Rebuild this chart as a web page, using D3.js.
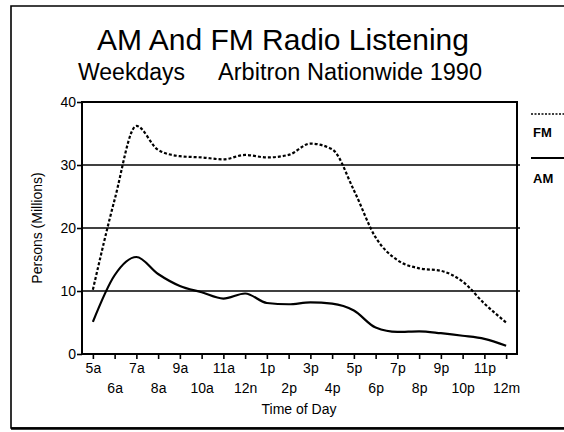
<!DOCTYPE html>
<html>
<head>
<meta charset="utf-8">
<script src="https://cdn.jsdelivr.net/npm/d3@7"></script>
<style>
  body { margin: 0; background: #fff; }
  svg { display: block; font-family: "Liberation Sans", Arial, sans-serif; }
</style>
</head>
<body>
<div id="canvas"></div>
<script>
// data
const times = ["5a", "6a", "7a", "8a", "9a", "10a", "11a", "12n", "1p", "2p",
  "3p", "4p", "5p", "6p", "7p", "8p", "9p", "10p", "11p", "12m"];
const fmValues = [10.2, 24.5, 36.2, 32.4, 31.4, 31.2, 30.9, 31.6, 31.2, 31.6,
  33.4, 32.5, 26, 18.5, 14.9, 13.6, 13.2, 11.5, 8.0, 5.0];
const amValues = [5.1, 12.5, 15.4, 12.7, 10.8, 9.8, 8.8, 9.6, 8.1, 7.9,
  8.2, 8.0, 6.9, 4.2, 3.5, 3.6, 3.3, 2.9, 2.4, 1.3];
const yTicks = [0, 10, 20, 30, 40];
const gridValues = [10, 20, 30];

const width = 564, height = 432;
const plot = { left: 82, right: 517, top: 102, bottom: 354 };

const svg = d3.select("#canvas")
  .append("svg")
  .attr("width", width)
  .attr("height", height);

// outer frame, runs off the right edge
svg.append("path")
  .attr("d", "M566,6 H11 V428 H566")
  .attr("fill", "none")
  .attr("stroke", "#000")
  .attr("stroke-width", 1.6);
svg.append("line")
  .attr("x1", 11).attr("x2", 566)
  .attr("y1", 428.5).attr("y2", 428.5)
  .attr("stroke", "#000")
  .attr("stroke-width", 2.5);

// titles
svg.append("text")
  .attr("x", 283)
  .attr("y", 50)
  .attr("text-anchor", "middle")
  .style("font-size", "30px")
  .text("AM And FM Radio Listening");

svg.append("text")
  .attr("x", 78)
  .attr("y", 80)
  .style("font-size", "23px")
  .text("Weekdays");

svg.append("text")
  .attr("x", 482)
  .attr("y", 80)
  .attr("text-anchor", "end")
  .style("font-size", "23.5px")
  .text("Arbitron Nationwide 1990");

const x = d3.scalePoint()
  .domain(times)
  .range([plot.left, plot.right])
  .padding(0.5);

const y = d3.scaleLinear()
  .domain([0, 40])
  .range([plot.bottom, plot.top]);

// gridlines
svg.append("g")
  .selectAll("line")
  .data(gridValues)
  .enter().append("line")
  .attr("x1", plot.left)
  .attr("x2", plot.right + 3)
  .attr("y1", d => y(d))
  .attr("y2", d => y(d))
  .attr("stroke", "#000")
  .attr("stroke-width", 1.6);

// plot frame
svg.append("rect")
  .attr("x", plot.left)
  .attr("y", plot.top)
  .attr("width", plot.right - plot.left)
  .attr("height", plot.bottom - plot.top)
  .attr("fill", "none")
  .attr("stroke", "#000")
  .attr("stroke-width", 2);

// x axis, labels staggered on two rows
const xAxis = svg.append("g")
  .attr("transform", `translate(0,${plot.bottom})`)
  .call(d3.axisBottom(x).tickSize(5).tickPadding(4));
xAxis.select(".domain").remove();
xAxis.selectAll(".tick line").attr("stroke-width", 1.6);
xAxis.selectAll(".tick text")
  .attr("dy", (d, i) => i % 2 === 0 ? "0.71em" : "2.15em")
  .style("font-size", "14px")
  .attr("fill", "#000");

// y axis
const yAxis = svg.append("g")
  .attr("transform", `translate(${plot.left},0)`)
  .call(d3.axisLeft(y).tickValues(yTicks).tickSize(5).tickPadding(1));
yAxis.select(".domain").remove();
yAxis.selectAll(".tick line").attr("stroke-width", 1.6);
yAxis.selectAll(".tick text")
  .style("font-size", "14px")
  .attr("fill", "#000");

svg.append("text")
  .attr("transform", "rotate(-90)")
  .attr("x", -(plot.top + plot.bottom) / 2)
  .attr("y", 42)
  .attr("text-anchor", "middle")
  .style("font-size", "14px")
  .text("Persons (Millions)");

svg.append("text")
  .attr("x", 299)
  .attr("y", 414)
  .attr("text-anchor", "middle")
  .style("font-size", "14px")
  .text("Time of Day");

// series lines
const fmLine = d3.line()
  .x((d, i) => x(times[i]))
  .y(d => y(d))
  .curve(d3.curveMonotoneX);

const amLine = d3.line()
  .x((d, i) => x(times[i]))
  .y(d => y(d))
  .curve(d3.curveMonotoneX);

svg.append("path")
  .datum(fmValues)
  .attr("fill", "none")
  .attr("stroke", "#000")
  .attr("stroke-width", 2.2)
  .attr("stroke-dasharray", "3,2")
  .attr("d", fmLine);

svg.append("path")
  .datum(amValues)
  .attr("fill", "none")
  .attr("stroke", "#000")
  .attr("stroke-width", 2.2)
  .attr("d", amLine);

// legend
const legend = svg.append("g");
legend.append("line")
  .attr("x1", 531).attr("x2", 564)
  .attr("y1", 114).attr("y2", 114)
  .attr("stroke", "#000")
  .attr("stroke-width", 1.6)
  .attr("stroke-dasharray", "2,1.5");
legend.append("text")
  .attr("x", 533)
  .attr("y", 137)
  .style("font-size", "13px")
  .style("font-weight", "bold")
  .text("FM");
legend.append("line")
  .attr("x1", 531).attr("x2", 564)
  .attr("y1", 158).attr("y2", 158)
  .attr("stroke", "#000")
  .attr("stroke-width", 1.8);
legend.append("text")
  .attr("x", 533)
  .attr("y", 183)
  .style("font-size", "13px")
  .style("font-weight", "bold")
  .text("AM");
</script>
</body>
</html>
